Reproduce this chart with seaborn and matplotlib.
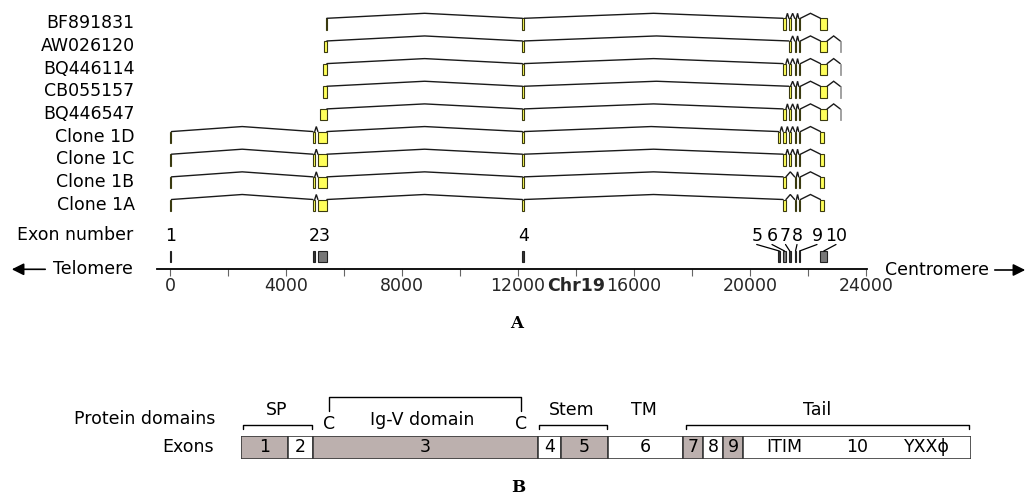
import numpy as np
import matplotlib
matplotlib.use("Agg")
import matplotlib.pyplot as plt
import seaborn as sns
from matplotlib.patches import Rectangle

# ---------------- data ----------------
transcripts = ["BF891831", "AW026120", "BQ446114", "CB055157", "BQ446547",
               "Clone 1D", "Clone 1C", "Clone 1B", "Clone 1A"]
exon_labels = ["1", "2", "3", "4", "5", "6", "7", "8", "9", "10"]
exon_starts = [0, 4930, 5100, 12150, 20980, 21140, 21340, 21540, 21680, 22430]
exon_ends = [50, 4990, 5410, 12210, 21040, 21240, 21400, 21600, 21740, 22660]
clone_exon10_end = 22540
est_tail_start, est_tail_end = 23110, 23150
est_exon3_starts = [5380, 5310, 5280, 5280, 5170]
transcript_exons = [
    [3, 4, 6, 7, 8, 9, 10],
    [3, 4, 7, 8, 9, 10, 11],
    [3, 4, 6, 7, 8, 9, 10, 11],
    [3, 4, 7, 8, 9, 10, 11],
    [3, 4, 6, 7, 8, 9, 10, 11],
    [1, 2, 3, 4, 5, 6, 7, 8, 9, 10],
    [1, 2, 3, 4, 6, 7, 8, 9, 10],
    [1, 2, 3, 4, 6, 8, 9, 10],
    [1, 2, 3, 4, 6, 8, 9, 10],
]
ruler_ticks = list(range(0, 24001, 2000))
ruler_labels = ["0", "", "4000", "", "8000", "", "12000", "Chr19",
                "16000", "", "20000", "", "24000"]

# protein (panel B)
protein_exons = ["1", "2", "3", "4", "5", "6", "7", "8", "9", "10"]
protein_exon_len = [19, 10, 90, 9, 19, 30, 8, 8, 8, 91]
protein_exon_shaded = [True, False, True, False, True, False, True, False, True, False]
exon10_motifs = ["ITIM", "10", "YXXϕ"]
exon10_motif_pos = [217.5, 246.8, 274.5]
domain_brackets = [("SP", 0.9, 28.7), ("Stem", 119.5, 146.7), ("Tail", 178.0, 291.5)]
domain_text_pos = {"SP": 14.5, "Stem": 132.5, "TM": 161.4, "Tail": 230.6}
igv_range = (35.5, 112.3)
igv_text_pos = 72.5

# ---------------- style ----------------
sns.set_theme(style="white")
plt.rcParams["font.family"] = ["DejaVu Sans"]
plt.rcParams["text.color"] = "black"
FS = 12.5
YEL = "#ffff5a"
EDGE = "#3a3a10"

W, H = 1031, 496
fig = plt.figure(figsize=(W / 100, H / 100), dpi=100)
fig.patch.set_facecolor("white")

X0, SC = 170.0, 0.029  # px of 0 bp, px per bp


def px2bp(p):
    return (p - X0) / SC


ax = fig.add_axes([0, 0, 1, 1])
ax.set_xlim(px2bp(0), px2bp(W))
ax.set_ylim(H, 0)
ax.axis("off")
ax.patch.set_visible(False)


def exon_span(k, row):
    if k == 11:
        return est_tail_start, est_tail_end
    s, e = exon_starts[k - 1], exon_ends[k - 1]
    if k == 3 and row < 5:
        s = est_exon3_starts[row]
    if k == 10 and row >= 5:
        e = clone_exon10_end
    return s, e


ROW0, DY, EH, HAT = 18.3, 22.65, 11.3, 5.0
for r, name in enumerate(transcripts):
    y = ROW0 + DY * r
    ax.text(px2bp(134.5), y + 5, name, ha="right", va="center", fontsize=FS)
    spans = [exon_span(k, r) for k in transcript_exons[r]]
    for (s1, e1), (s2, e2) in zip(spans[:-1], spans[1:]):
        ax.plot([e1, (e1 + s2) / 2, s2], [y, y - HAT, y], color="#1a1a1a", lw=1.0,
                solid_joinstyle="miter")
    for k, (s, e) in zip(transcript_exons[r], spans):
        if k == 11:
            ax.add_patch(Rectangle((s, y), e - s, EH, facecolor="#bbbbbb",
                                   edgecolor="#999999", lw=0.6))
        else:
            ax.add_patch(Rectangle((s, y), e - s, EH, facecolor=YEL,
                                   edgecolor=EDGE, lw=0.8))

# exon number row
ax.text(px2bp(133), 235, "Exon number", ha="right", va="center", fontsize=FS)
EY = 251
for i in range(10):
    s, e = exon_starts[i], exon_ends[i]
    wide = (e - s) > 80
    ax.add_patch(Rectangle((s, EY), e - s, 11, facecolor="#777777" if wide else "#333333",
                           edgecolor="#222222", lw=0.8))
mid = lambda i: (exon_starts[i] + exon_ends[i]) / 2
ax.text(mid(0), 236, "1", ha="center", va="center", fontsize=FS)
ax.text((exon_starts[1] + exon_ends[2]) / 2, 236, "23", ha="center", va="center", fontsize=FS)
ax.text(mid(3), 236, "4", ha="center", va="center", fontsize=FS)
lab_px = [756.7, 772, 785.5, 797, 817, 836]
for j, i in enumerate(range(4, 10)):
    ax.text(px2bp(lab_px[j]), 236, exon_labels[i], ha="center", va="center", fontsize=FS)
    ax.plot([px2bp(lab_px[j]), mid(i)], [244.5, EY], color="black", lw=0.9)

# ruler
rax = fig.add_axes([157 / W, 1 - 269.3 / H, 710 / W, 0.0001])
rax.set_xlim(px2bp(157), px2bp(867))
rax.set_ylim(0, 1)
for s in ["left", "right", "top"]:
    rax.spines[s].set_visible(False)
rax.spines["bottom"].set_linewidth(1.3)
rax.spines["bottom"].set_color("black")
rax.patch.set_visible(False)
rax.set_yticks([])
rax.set_xticks(ruler_ticks)
rax.set_xticklabels(ruler_labels)
rax.tick_params(axis="x", direction="out", length=5, width=0.8, color="#666666",
                pad=0.5, labelsize=FS, bottom=True)
for t in rax.get_xticklabels():
    if t.get_text() == "Chr19":
        t.set_fontweight("bold")

ax.annotate("", xy=(px2bp(9), 269.3), xytext=(px2bp(48), 269.3),
            arrowprops=dict(arrowstyle="-|>", color="black", lw=1.2, mutation_scale=18))
ax.text(px2bp(53), 269.3, "Telomere", ha="left", va="center", fontsize=FS)
ax.annotate("", xy=(px2bp(1028), 270), xytext=(px2bp(992), 270),
            arrowprops=dict(arrowstyle="-|>", color="black", lw=1.2, mutation_scale=18))
ax.text(px2bp(885), 270, "Centromere", ha="left", va="center", fontsize=FS)

ax.text(px2bp(517), 323, "A", ha="center", va="center", fontsize=12,
        fontweight="bold", family="DejaVu Serif")
ax.text(px2bp(518), 488, "B", ha="center", va="center", fontsize=12,
        fontweight="bold", family="DejaVu Serif")

# ---------------- panel B ----------------
bx = fig.add_axes([240.5 / W, 1 - 459 / H, 730 / W, 23 / H])
lens = np.array(protein_exon_len, dtype=float)
lefts = np.concatenate([[0], np.cumsum(lens)[:-1]])
cols = ["#bcb0ae" if sh else "white" for sh in protein_exon_shaded]
bx.barh(0.5, lens, left=lefts, height=1.0, color=cols, edgecolor="#3a3a3a", lw=1.2)
bx.set_xlim(0, lens.sum())
bx.set_ylim(0, 1)
bx.axis("off")
for i, lab in enumerate(protein_exons[:-1]):
    bx.text(lefts[i] + lens[i] / 2, 0.5, lab, ha="center", va="center", fontsize=FS)
for lab, xp in zip(exon10_motifs, exon10_motif_pos):
    bx.text(xp, 0.5, lab, ha="center", va="center", fontsize=FS)

yb, ybt = 1.48, 1.29
for name, a, b in domain_brackets:
    bx.plot([a, a, b, b], [ybt, yb, yb, ybt], color="black", lw=1.0, clip_on=False)
for name, xp in domain_text_pos.items():
    bx.text(xp, 2.13, name, ha="center", va="center", fontsize=FS, clip_on=False)
a, b = igv_range
bx.plot([a, a, b, b], [2.09, 2.70, 2.70, 2.09], color="black", lw=1.0, clip_on=False)
bx.text(a, 1.52, "C", ha="center", va="center", fontsize=FS)
bx.text(b, 1.52, "C", ha="center", va="center", fontsize=FS)
bx.text(igv_text_pos, 1.70, "Ig-V domain", ha="center", va="center", fontsize=FS)

fig.text(215 / W, 1 - 419.3 / H, "Protein domains", ha="right", va="center", fontsize=FS)
fig.text(214 / W, 1 - 446.7 / H, "Exons", ha="right", va="center", fontsize=FS)

fig.savefig("out.png", dpi=100, facecolor="white")
